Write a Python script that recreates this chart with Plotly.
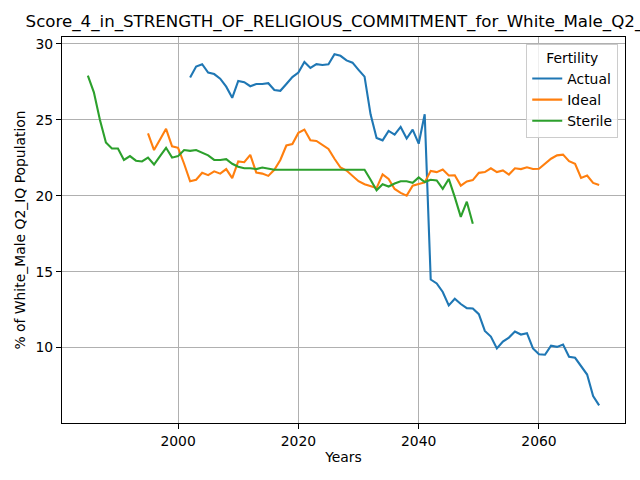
import plotly.graph_objects as go

actual_years = list(range(2002, 2071))
actual_vals = [27.77, 28.5, 28.65, 28.1, 28.0, 27.7, 27.17, 26.44, 27.55, 27.47,
               27.2, 27.35, 27.35, 27.4, 26.95, 26.9, 27.35, 27.8, 28.1, 28.8,
               28.4, 28.65, 28.6, 28.65, 29.3, 29.2, 28.9, 28.75, 28.28, 27.83,
               25.35, 23.8, 23.64, 24.26, 24.02, 24.52, 23.76, 24.35, 23.42, 25.36,
               14.48, 14.22, 13.66, 12.78, 13.22, 12.87, 12.6, 12.58, 12.2, 11.1,
               10.73, 9.95, 10.4, 10.66, 11.06, 10.86, 10.95, 9.95, 9.56, 9.53,
               10.13, 10.05, 10.2, 9.4, 9.33, 8.8, 8.23, 6.82, 6.2]

ideal_years = list(range(1995, 2071))
ideal_vals = [24.1, 23.0, 23.7, 24.4, 23.25, 23.15, 22.1, 20.95, 21.05, 21.5,
              21.35, 21.6, 21.45, 21.75, 21.15, 22.25, 22.2, 22.68, 21.52, 21.45,
              21.3, 21.7, 22.35, 23.3, 23.4, 24.13, 24.35, 23.65, 23.6, 23.33,
              23.07, 22.43, 21.85, 21.65, 21.3, 20.95, 20.75, 20.6, 20.5, 21.4,
              21.1, 20.44, 20.18, 20.0, 20.66, 20.77, 20.87, 21.63, 21.55, 21.72,
              21.33, 21.34, 20.66, 20.94, 21.02, 21.5, 21.55, 21.8, 21.55, 21.66,
              21.39, 21.8, 21.75, 21.87, 21.75, 21.77, 22.1, 22.43, 22.65, 22.7,
              22.27, 22.1, 21.17, 21.32, 20.84, 20.7]

sterile_years = list(range(1985, 2050))
sterile_vals = [27.9, 26.8, 25.0, 23.5, 23.1, 23.1, 22.35, 22.6, 22.3, 22.25,
                22.5, 22.05, 22.6, 23.15, 22.5, 22.6, 23.0, 22.95, 23.0, 22.85,
                22.65, 22.35, 22.35, 22.4, 22.1, 21.9, 21.8, 21.8, 21.75, 21.85,
                21.75, 21.7, 21.7, 21.7, 21.7, 21.7, 21.7, 21.7, 21.7, 21.7,
                21.7, 21.7, 21.7, 21.7, 21.7, 21.7, 21.7, 21.05, 20.35, 20.75,
                20.6, 20.8, 20.95, 20.95, 20.85, 21.2, 20.9, 21.05, 21.0, 20.45,
                21.1, 19.9, 18.6, 19.6, 18.15]

FONT = "DejaVu Sans"
fig = go.Figure()
for name, xs, ys, col in [("Actual", actual_years, actual_vals, "#1f77b4"),
                          ("Ideal", ideal_years, ideal_vals, "#ff7f0e"),
                          ("Sterile", sterile_years, sterile_vals, "#2ca02c")]:
    fig.add_trace(go.Scatter(x=xs, y=ys, mode="lines", name=name,
                             line=dict(color=col, width=2.1)))

axis_common = dict(showgrid=True, gridcolor="#b0b0b0", gridwidth=1,
                   showline=True, linecolor="black", linewidth=1, mirror=True,
                   ticks="outside", ticklen=5, tickcolor="black", zeroline=False,
                   tickfont=dict(family=FONT, size=13.9, color="black"))

fig.update_layout(
    width=640, height=480,
    margin=dict(l=62, r=15, t=37, b=57, autoexpand=False),
    paper_bgcolor="white", plot_bgcolor="white",
    font=dict(family=FONT, size=13.9, color="black"),
    title=dict(text="Score_4_in_STRENGTH_OF_RELIGIOUS_COMMITMENT_for_White_Male_Q2_IQ",
               x=0.5366, xanchor="center", y=0.955, yanchor="middle",
               font=dict(family=FONT, size=16.67, color="black")),
    xaxis=dict(range=[1980.7, 2074.3], tick0=2000, dtick=20,
               title=dict(text="Years", font=dict(family=FONT, size=13.9), standoff=4),
               **axis_common),
    yaxis=dict(range=[5.04, 30.44], tick0=10, dtick=5,
               title=dict(text="% of White_Male Q2_IQ Population",
                          font=dict(family=FONT, size=13.9), standoff=6),
               **axis_common),
    legend=dict(x=0.988, y=0.982, xanchor="right", yanchor="top",
                bgcolor="rgba(255,255,255,0.8)", bordercolor="#cccccc", borderwidth=1,
                font=dict(family=FONT, size=13.9),
                title=dict(text="Fertility", side="top center",
                           font=dict(family=FONT, size=13.9))),
)

fig.write_html("out.html", config={"displayModeBar": False},
               post_script="document.body.style.margin='0';document.body.style.overflow='hidden';")
